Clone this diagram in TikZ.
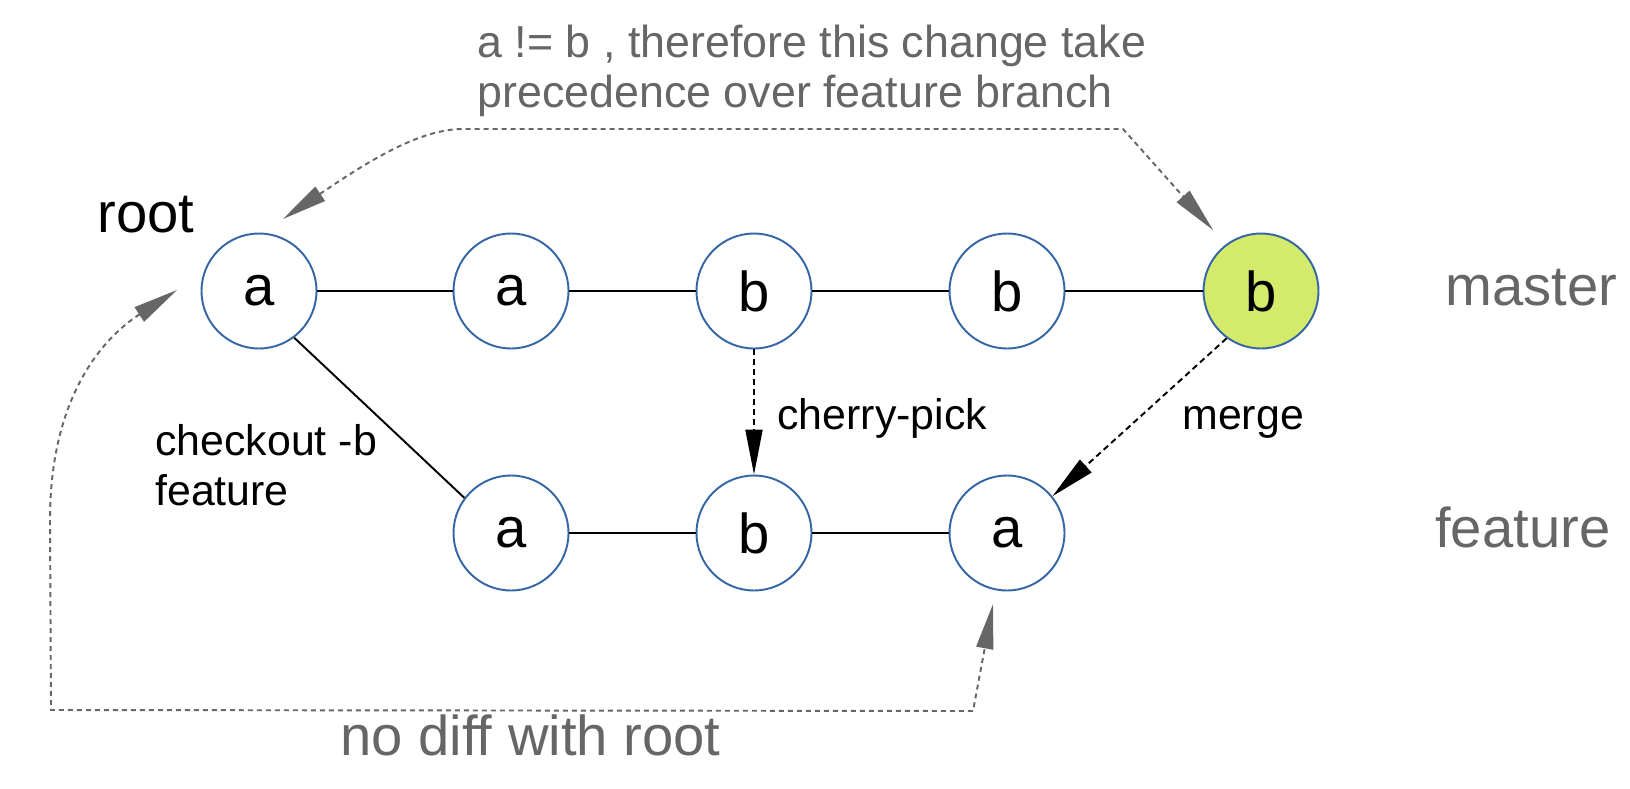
\documentclass[tikz,border=0pt]{standalone}
\usepackage{fontspec}
\setmainfont{Liberation Sans}
\usetikzlibrary{arrows.meta}
\definecolor{ringblue}{HTML}{3465A4}
\definecolor{headgreen}{HTML}{D4EA6B}
\definecolor{notegray}{HTML}{666666}

\begin{document}
\begin{tikzpicture}[x=0.02cm,y=-0.02cm,
    commit/.style={circle,draw=ringblue,line width=1.1pt,minimum size=2.3cm,inner sep=0pt,
      font=\fontsize{32}{38}\selectfont},
    branchlbl/.style={anchor=base west,inner sep=0pt,text=notegray,font=\fontsize{32}{38}\selectfont},
    oplbl/.style={anchor=base west,inner sep=0pt,align=left,font=\fontsize{24.4}{28.3}\selectfont},
    link/.style={line width=1.1pt},
    pick/.style={line width=1.1pt,dash pattern=on 0.12cm off 0.08cm,
      -{Triangle[length=0.9cm,width=0.34cm]}},
    notearrow/.style={line width=1.1pt,notegray,dash pattern=on 0.1cm off 0.08cm,
      {Triangle[length=0.9cm,width=0.34cm]}-{Triangle[length=0.9cm,width=0.34cm]}}]
  \useasboundingbox (0,0) rectangle (1630,788);

  % master
  \node[commit] (m1) at (259,291) {a};
  \node[commit] (m2) at (511,291) {a};
  \node[commit] (m3) at (754,291) {b};
  \node[commit] (m4) at (1007,291) {b};
  \node[commit,fill=headgreen] (m5) at (1261,291) {b};

  % feature
  \node[commit] (f1) at (511,533) {a};
  \node[commit] (f2) at (754,533) {b};
  \node[commit] (f3) at (1007,533) {a};

  \node[anchor=base west,inner sep=0pt,font=\fontsize{32}{38}\selectfont] (rootlbl) at (97,232) {root};
  \node[branchlbl] (masterlbl) at (1445,305) {master};
  \node[branchlbl] (featurelbl) at (1435,547) {feature};
  \node[oplbl] (checkoutlbl) at (155,505) {checkout -b\\feature};
  \node[oplbl] (picklbl) at (777,429) {cherry-pick};
  \node[oplbl] (mergelbl) at (1182,429) {merge};
  \node[anchor=base west,inner sep=0pt,align=left,text=notegray,
    font=\fontsize{25.5}{28.3}\selectfont] (toplbl) at (477,107)
    {a != b , therefore this change take\\precedence over feature branch};
  \node[branchlbl] (difflbl) at (340,755) {no diff with root};

  \draw[link] (m1) -- (m2) -- (m3) -- (m4) -- (m5);
  \draw[link] (f1) -- (f2) -- (f3);
  \draw[link] (m1.-53) -- (f1.143);
  \draw[pick] (m3) -- (f2);
  \draw[pick] (m5.234) -- (f3.39);

  \coordinate (rootTip) at (283,219);
  \coordinate (headTip) at (1213,230);
  \coordinate (leftTip) at (177,290);
  \coordinate (sameTip) at (993,604);
  \draw[notearrow] (rootTip) .. controls (370,160) and (420,129) .. (463,129)
    -- (1123,129) -- (headTip);
  \draw[notearrow] (leftTip) .. controls (100,340) and (50,400) .. (50,520)
    -- (51,710) -- (973,711) -- (sameTip);
\end{tikzpicture}
\end{document}
